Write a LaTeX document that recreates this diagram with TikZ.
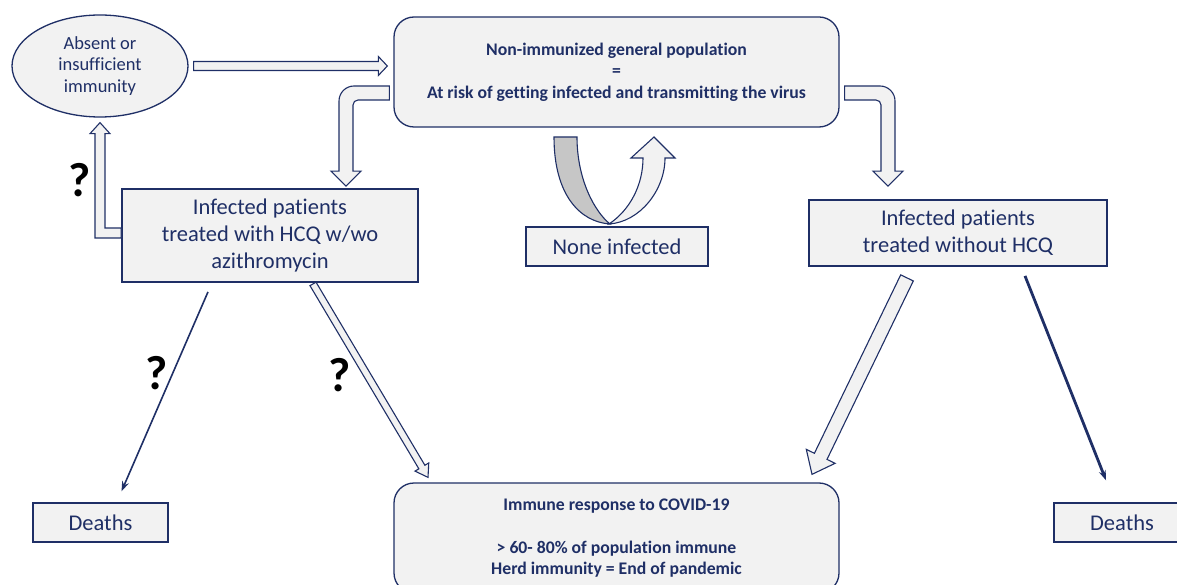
\documentclass[tikz,border=0pt]{standalone}
\usepackage{fontspec}
\setmainfont{Carlito}[Ligatures=NoCommon]
\usetikzlibrary{shapes.geometric, arrows.meta, positioning, calc}
\definecolor{navy}{HTML}{1F2F66}
\definecolor{boxfill}{HTML}{F2F2F2}
\definecolor{bandgray}{HTML}{C6C6C6}

% straight block arrow: from, to, half shaft, half head, head length
\newcommand{\blockarrow}[5]{%
  \path ($(#2)!#5!(#1)$) coordinate (hb);
  \draw[hollow] ($(#1)!#3!90:(#2)$) -- ($(hb)!#3!90:(#2)$) -- ($(hb)!#4!90:(#2)$) -- (#2)
    -- ($(hb)!#4!-90:(#2)$) -- ($(hb)!#3!-90:(#2)$) -- ($(#1)!#3!-90:(#2)$) -- cycle;
}

\begin{document}
\begin{tikzpicture}[
    x=1pt, y=-1pt,
    box/.style={draw=navy, line width=1.8pt, fill=boxfill, text=navy, align=center, inner sep=0pt, font=\fontsize{22.5}{27}\selectfont},
    rbox/.style={draw=navy, line width=1.3pt, fill=boxfill, rounded corners=20pt, text=navy, align=center, inner sep=0pt,
        minimum width=445pt, minimum height=110pt, font=\bfseries\fontsize{17.7}{21.5}\selectfont},
    hollow/.style={draw=navy, fill=boxfill, line width=1.1pt, line join=miter},
    thinarr/.style={draw=navy, -{Stealth[length=10pt, width=7pt]}},
    qmark/.style={font=\bfseries\fontsize{48}{48}\selectfont},
]
\useasboundingbox (0,0) rectangle (1177,585);
\clip (0,0) rectangle (1177,585);

\node[ellipse, draw=navy, line width=1.3pt, fill=boxfill, text=navy, minimum width=176pt, minimum height=102pt,
    inner sep=0pt, align=center, font=\fontsize{18.5}{21.5}\selectfont] (imm) at (100,66) {Absent or\\insufficient\\immunity};
\node[rbox] (pop) at (616.5,72) {Non-immunized general population\\=\\At risk of getting infected and transmitting the virus};
\node[box, minimum width=296pt, minimum height=93pt] (inf1) at (270,235.5) {Infected patients\\treated with HCQ w/wo\\azithromycin};
\node[box, minimum width=298pt, minimum height=66pt] (inf2) at (958,233) {Infected patients\\treated without HCQ};
\node[box, minimum width=182pt, minimum height=39pt, line width=1.2pt] (none) at (617,246.5) {None infected};
\node[rbox] (herd) at (616.5,538) {Immune response to COVID-19\\[21.5pt]> 60- 80\% of population immune\\Herd immunity = End of pandemic};
\node[box, minimum width=135pt, minimum height=39pt, line width=1.4pt] (d1) at (100.5,522.5) {Deaths};
\node[box, minimum width=136pt, minimum height=39pt, line width=1.4pt] (d2) at (1122,522.5) {Deaths};

% block arrows
\coordinate (a1) at ($(imm.east)+(5,0)$);
\coordinate (a2) at ($(pop.west)+(-6,-6)$);
\blockarrow{a1}{a2}{4.5pt}{9.5pt}{9pt}

\coordinate (b1) at ($(inf1.south)+(43,1)$);
\coordinate (b2) at ($(herd.north)+(-188.5,-5)$);
\blockarrow{b1}{b2}{3.5pt}{8pt}{12pt}

\coordinate (c1) at ($(inf2.south)+(-51,11)$);
\coordinate (c2) at ($(herd.north)+(195.5,-8)$);
\blockarrow{c1}{c2}{7pt}{16pt}{20pt}

\coordinate (e1s) at ($(pop.west)+(-4,21)$);
\coordinate (e1t) at ($(inf1.north)+(76,-2)$);
\draw[hollow] let \p1=(e1s), \p2=(e1t) in
  (\x1,\y1+7pt) -- (\x2+8pt,\y1+7pt) arc[start angle=90, end angle=180, radius=15pt]
  -- (\x2-7pt,\y2+15pt) -- (\x2-15pt,\y2+15pt) -- (\x2,\y2) -- (\x2+15pt,\y2+15pt) -- (\x2+7pt,\y2+15pt)
  -- (\x2+7pt,\y1-12pt) arc[start angle=180, end angle=90, radius=5pt] -- (\x1,\y1-7pt) -- cycle;

\coordinate (e2s) at ($(pop.east)+(5,21)$);
\coordinate (e2t) at ($(inf2.north)+(-70,-13)$);
\draw[hollow] let \p1=(e2s), \p2=(e2t) in
  (\x1,\y1+7pt) -- (\x2-8pt,\y1+7pt) arc[start angle=90, end angle=0, radius=15pt]
  -- (\x2+7pt,\y2+15pt) -- (\x2+15pt,\y2+15pt) -- (\x2,\y2) -- (\x2-15pt,\y2+15pt) -- (\x2-7pt,\y2+15pt)
  -- (\x2-7pt,\y1-12pt) arc[start angle=0, end angle=90, radius=5pt] -- (\x1,\y1-7pt) -- cycle;

\coordinate (e3s) at ($(inf1.west)+(0,-2.5)$);
\coordinate (e3t) at ($(imm.south)+(0,5)$);
\draw[hollow] let \p1=(e3s), \p2=(e3t) in
  (\x1,\y1-5pt) -- (\x2-5pt,\y1-5pt) -- (\x2-5pt,\y2-11pt) -- (\x2-10pt,\y2-11pt) -- (\x2,\y2)
  -- (\x2+10pt,\y2-11pt) -- (\x2+5pt,\y2-11pt) -- (\x2+5pt,\y1+5pt) -- (\x1,\y1+5pt) -- cycle;

% u-turn
\filldraw[draw=navy, fill=bandgray, line width=1.1pt] (554,137) .. controls (554,195) and (580,222) .. (610,224)
  .. controls (595,212) and (577,180) .. (577,137) -- cycle;
\filldraw[hollow] (609,224) .. controls (640,222) and (665,190) .. (665,158) -- (675,158) -- (654,137) -- (631,158)
  -- (643,158) .. controls (643,185) and (630,210) .. (609,224) -- cycle;

% thin arrows
\draw[thinarr, line width=1.6pt] ([shift={(-62,9)}]inf1.south) -- ([shift={(21,-11)}]d1.north);
\draw[thinarr, line width=2.8pt] ([shift={(67,9)}]inf2.south) -- ([shift={(-16,-22)}]d2.north);

\node[qmark] (q1) at (80,180) {?};
\node[qmark] (q2) at (157,373) {?};
\node[qmark] (q3) at (340,375) {?};

\end{tikzpicture}
\end{document}
